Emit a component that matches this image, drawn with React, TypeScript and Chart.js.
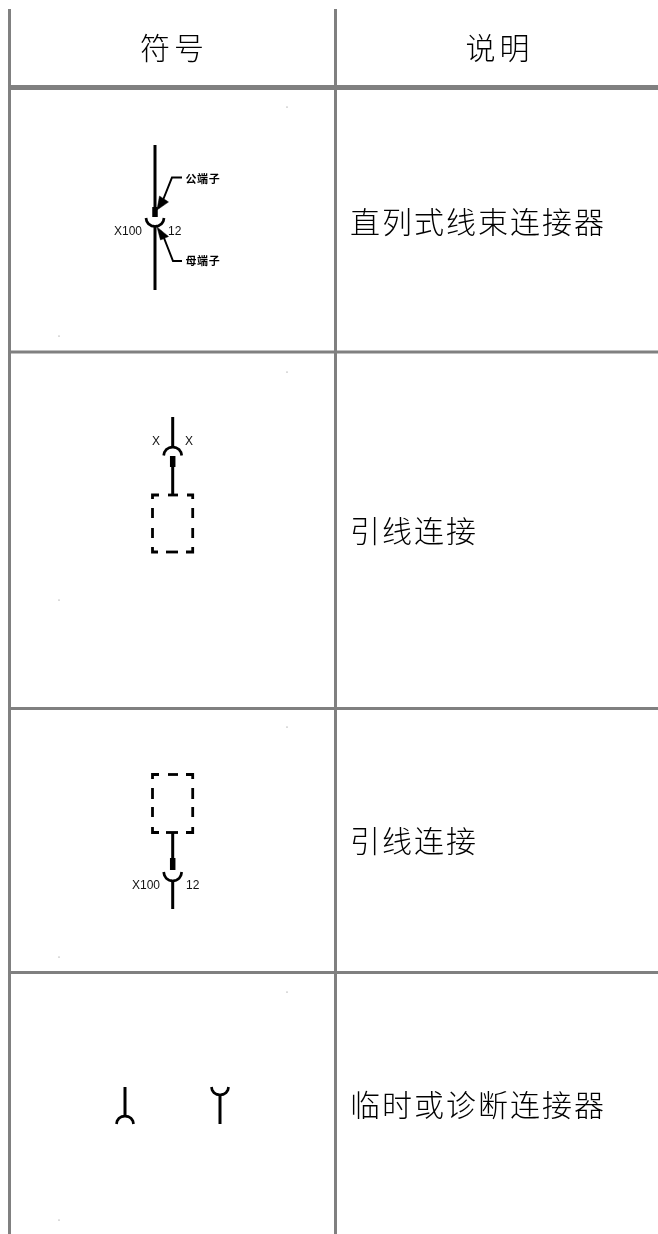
import React, { useEffect, useRef } from "react";
import { Chart, registerables } from "chart.js";

Chart.register(...registerables);

type P = [number, number];

// Table rules, in page pixels
const tableVerticals: P[][] = [
  [[9.5, 9], [9.5, 1234]],
  [[335.5, 9], [335.5, 1234]],
];
const headerRule: P[] = [[8, 87.5], [658, 87.5]];
const rowRules: P[][] = [
  [[8, 352], [658, 352]],
  [[8, 708.5], [658, 708.5]],
  [[8, 972.5], [658, 972.5]],
];

// Stray scan specks in the picture
const specks: P[] = [[287, 107], [59, 336], [287, 372], [59, 600], [287, 727], [59, 957], [287, 992], [59, 1220]];

// Solid wires
const wires: P[][] = [
  [[155, 145], [155, 210]],
  [[155, 226], [155, 290]],
  [[172.7, 417], [172.7, 448]],
  [[172.7, 466], [172.7, 495]],
  [[172.7, 833], [172.7, 860]],
  [[172.7, 880], [172.7, 909]],
  [[125, 1087], [125, 1116]],
  [[220, 1095], [220, 1124]],
];
// Leader lines of the terminal callouts
const leaders: P[][] = [
  [[182, 177.5], [172, 177.5], [163, 200]],
  [[182, 261], [173, 261], [164, 238]],
];
// Connector cups
const cups: P[][] = [
  [[146, 218], [146.7, 221.3], [148.6, 224], [151.6, 225.9], [155, 226.5], [158.4, 225.9], [161.4, 224], [163.3, 221.3], [164, 218]],
  [[163.7, 455.5], [164.4, 452.3], [166.3, 449.5], [169.3, 447.7], [172.7, 447], [176.1, 447.7], [179.1, 449.5], [181, 452.3], [181.7, 455.5]],
  [[163.7, 872], [164.4, 875.3], [166.3, 878.4], [169.3, 880.3], [172.7, 881], [176.1, 880.3], [179.1, 878.4], [181, 875.3], [181.7, 872]],
  [[116.5, 1124], [117.1, 1121], [119, 1118.3], [121.8, 1116.6], [125, 1116], [128.2, 1116.6], [131, 1118.3], [132.9, 1121], [133.5, 1124]],
  [[211.5, 1087], [212.1, 1090], [214, 1092.7], [216.8, 1094.4], [220, 1095], [223.2, 1094.4], [226, 1092.7], [227.9, 1090], [228.5, 1087]],
];
// Male terminal blocks
const blocks: P[][] = [
  [[155, 207], [155, 217]],
  [[172.7, 456], [172.7, 467]],
  [[172.7, 858], [172.7, 870]],
];
// Arrow heads
const arrowHeads: P[][] = [
  [[157, 210], [159.5, 196], [168.5, 202], [157, 210]],
  [[157, 227], [160.5, 240], [168.5, 236.5], [157, 227]],
];
// Dashed outline pieces
const dashes: P[][] = [
  [[152.5, 499], [152.5, 495], [159, 495]],
  [[168, 495], [178, 495]],
  [[187, 495], [192.7, 495], [192.7, 499]],
  [[152.5, 508], [152.5, 518]],
  [[152.5, 528], [152.5, 538]],
  [[192.7, 508], [192.7, 518]],
  [[192.7, 528], [192.7, 538]],
  [[152.5, 547], [152.5, 552], [158, 552]],
  [[166, 552], [178, 552]],
  [[186, 552], [192.7, 552], [192.7, 547]],
  [[152.5, 779], [152.5, 774.5], [159, 774.5]],
  [[168, 774.5], [178, 774.5]],
  [[186, 774.5], [192.7, 774.5], [192.7, 779]],
  [[152.5, 788], [152.5, 799]],
  [[152.5, 807], [152.5, 817]],
  [[192.7, 788], [192.7, 799]],
  [[192.7, 807], [192.7, 817]],
  [[152.5, 827], [152.5, 832.5], [159, 832.5]],
  [[166, 832.5], [178, 832.5]],
  [[186, 832.5], [192.7, 832.5], [192.7, 827]],
];

const headerLabels = ["符号", "说明"];
const headerAnchors: P[] = [[174, 48], [499.5, 48]];
const descriptions = ["直列式线束连接器", "引线连接", "引线连接", "临时或诊断连接器"];
const descriptionAnchors: P[] = [[350, 222], [350, 531], [350, 841], [350, 1105]];
const pinLabels = ["X100", "12", "X", "X", "X100", "12"];
const pinAnchors: P[] = [[114, 231.5], [168, 231.5], [152, 442], [185, 442], [132, 885.5], [186, 885.5]];
const calloutLabels = ["公端子", "母端子"];
const calloutAnchors: P[] = [[185.5, 178.5], [185.5, 260.5]];

const GREY = "#808080";
const INK = "#000000";

const line = (pts: P[], width: number, color: string, extra: object = {}) => ({
  type: "scatter" as const,
  data: pts.map(([x, y]) => ({ x, y })),
  showLine: true,
  borderColor: color,
  backgroundColor: color,
  borderWidth: width,
  pointRadius: 0,
  tension: 0.001,
  ...extra,
});

const textPlugin = {
  id: "tableText",
  afterDatasetsDraw(chart: any) {
    const { ctx, scales } = chart;
    const put = (labels: string[], at: P[], font: string, align: CanvasTextAlign, spacing: string, color: string) => {
      ctx.save();
      ctx.font = font;
      ctx.textAlign = align;
      ctx.textBaseline = "middle";
      ctx.fillStyle = color;
      (ctx as any).letterSpacing = spacing;
      labels.forEach((t, i) => {
        ctx.fillText(t, scales.x.getPixelForValue(at[i][0]), scales.y.getPixelForValue(at[i][1]));
      });
      ctx.restore();
    };
    const cjk = '"Noto Sans CJK SC", sans-serif';
    put(headerLabels, headerAnchors, `300 30px ${cjk}`, "center", "4px", "#000000");
    put(descriptions, descriptionAnchors, `300 30px ${cjk}`, "left", "2px", "#000000");
    put(pinLabels, pinAnchors, '12px "Liberation Sans", sans-serif', "left", "0px", "#111111");
    put(calloutLabels, calloutAnchors, `700 11px ${cjk}`, "left", "0.6px", "#000000");
  },
};

export default function App() {
  const ref = useRef<HTMLCanvasElement>(null);
  useEffect(() => {
    const datasets: any[] = [
      ...tableVerticals.map((p) => line(p, 3, GREY)),
      line(headerRule, 5, GREY),
      ...rowRules.map((p) => line(p, 3, GREY)),
      {
        type: "scatter",
        data: specks.map(([x, y]) => ({ x, y })),
        pointRadius: 0.6,
        borderWidth: 0,
        backgroundColor: "#777777",
      },
      ...wires.map((p) => line(p, 3, INK)),
      ...leaders.map((p) => line(p, 2, INK)),
      ...cups.map((p) => line(p, 2.7, INK)),
      ...blocks.map((p) => line(p, 5.5, INK)),
      ...arrowHeads.map((p) => line(p, 0.5, INK, { fill: "shape" })),
      ...dashes.map((p) => line(p, 2.8, INK)),
    ];
    const chart = new Chart(ref.current!, {
      type: "scatter",
      data: { datasets },
      options: {
        animation: false,
        responsive: false,
        layout: { padding: 0, autoPadding: false },
        plugins: { legend: { display: false }, tooltip: { enabled: false }, title: { display: false } },
        scales: {
          x: { type: "linear", display: false, min: 0, max: 658 },
          y: { type: "linear", display: false, min: 0, max: 1234, reverse: true },
        },
      },
      plugins: [textPlugin],
    } as any);
    return () => chart.destroy();
  }, []);
  return (
    <canvas
      ref={ref}
      width={658}
      height={1234}
      style={{ position: "fixed", left: 0, top: 0, width: 658, height: 1234, display: "block", background: "#fff" }}
    />
  );
}
